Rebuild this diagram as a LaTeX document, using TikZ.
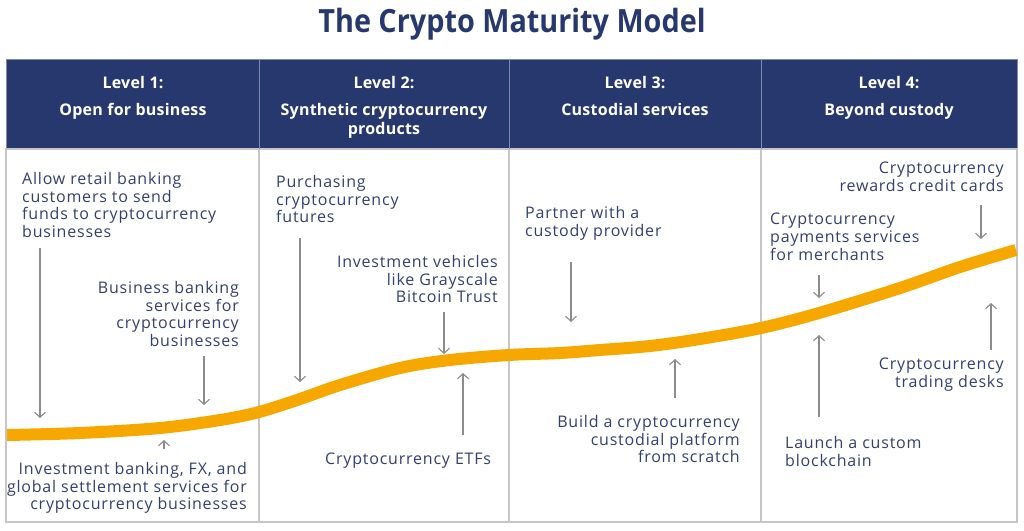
\documentclass[tikz,border=0pt]{standalone}
\usepackage{fontspec}
\setmainfont{Open Sans}
\newfontfamily\bodyf[LetterSpace=5]{Open Sans}
\newfontfamily\hdrf[LetterSpace=1.5]{Open Sans}
\usetikzlibrary{arrows.meta}
\definecolor{navy}{HTML}{27386F}
\definecolor{txt}{HTML}{33406F}
\definecolor{orng}{HTML}{F6A800}
\definecolor{arr}{HTML}{8C8C8C}
\definecolor{gridc}{HTML}{C6C6C6}
\definecolor{hdrline}{HTML}{8088AC}
\begin{document}
\begin{tikzpicture}[x=1pt,y=-1pt,
  lab/.style={inner sep=0pt, font=\bodyf\fontsize{16}{17.7}\selectfont, text=txt},
  labl/.style={lab, align=left, anchor=north west},
  labr/.style={lab, align=right, anchor=north east},
  hdr/.style={inner sep=0pt, font=\hdrf\fontsize{16}{19}\selectfont\bfseries, text=white, align=center, anchor=north},
  arrline/.style={draw=arr, line width=1.1pt, -{Straight Barb[length=5pt,width=11pt]}}]
\useasboundingbox (0,0) rectangle (1024,530);
\fill[white] (0,0) rectangle (1024,530);
% title
\node[anchor=base, inner sep=0pt, text=navy, font=\fontsize{32}{36}\selectfont\bfseries] (title) at (512,32) {\scalebox{0.9}[1]{The Crypto Maturity Model}};
% header band and body frame
\fill[navy] (6,59) rectangle (1017,149);
\draw[hdrline, line width=0.8pt] (6,59) rectangle (1017,149);
\draw[gridc, line width=1.2pt] (6,149) rectangle (1017,522);
% dividers
\foreach \xx in {259,509,761}{
  \draw[hdrline, line width=0.8pt] (\xx,59) -- (\xx,149);
  \draw[gridc, line width=1.2pt] (\xx,149) -- (\xx,522);
}
% curve
\draw[orng, line width=12pt, line cap=butt] plot[smooth, tension=0.55] coordinates {
 (7,435) (80,433) (160,428) (220,420) (259,412) (300,399) (340,385) (400,368) (450,360) (509,355) (560,353) (600,350) (650,346) (700,339) (761,328) (819,313) (900,288) (960,267) (1016,250)};
% headers
\node[hdr] (h1) at (133,76) {Level 1:\\[8pt]Open for business};
\node[hdr] (h2) at (384,76) {Level 2:\\[8pt]Synthetic cryptocurrency\\products};
\node[hdr] (h3) at (635,76) {Level 3:\\[8pt]Custodial services};
\node[hdr] (h4) at (889,76) {Level 4:\\[8pt]Beyond custody};
% column 1
\node[labl] (n1a) at (22,172) {Allow retail banking\\customers to send\\funds to cryptocurrency\\businesses};
\node[labr] (n1b) at (239,281) {Business banking\\services for\\cryptocurrency\\businesses};
\node[labr] (n1c) at (247,462) {Investment banking, FX, and\\global settlement services for\\cryptocurrency businesses};
% column 2
\node[labl] (n2a) at (276,175) {Purchasing\\cryptocurrency\\futures};
\node[labr] (n2b) at (498,255) {Investment vehicles\\like Grayscale\\Bitcoin Trust};
\node[labl] (n2c) at (325,453) {Cryptocurrency ETFs};
% column 3
\node[labl] (n3a) at (525,206) {Partner with a\\custody provider};
\node[labr] (n3b) at (740,415) {Build a cryptocurrency\\custodial platform\\from scratch};
% column 4
\node[labr] (n4a) at (1004,162) {Cryptocurrency\\rewards credit cards};
\node[labl] (n4b) at (770,213) {Cryptocurrency\\payments services\\for merchants};
\node[labr] (n4c) at (1004,358) {Cryptocurrency\\trading desks};
\node[labl] (n4d) at (785,436) {Launch a custom\\blockchain};
% arrows
\coordinate (a1s) at (40,248);  \coordinate (a1e) at (40,418);
\coordinate (a2s) at (204,356); \coordinate (a2e) at (204,405);
\coordinate (a3s) at (164,449); \coordinate (a3e) at (164,440);
\coordinate (a4s) at (300,238); \coordinate (a4e) at (300,382);
\coordinate (a5s) at (444,312); \coordinate (a5e) at (444,354);
\coordinate (a6s) at (463,435); \coordinate (a6e) at (463,373);
\coordinate (a7s) at (571,262); \coordinate (a7e) at (571,322);
\coordinate (a8s) at (675,398); \coordinate (a8e) at (675,359);
\coordinate (a9s) at (981,205); \coordinate (a9e) at (981,239);
\coordinate (a10s) at (819,275); \coordinate (a10e) at (819,298);
\coordinate (a11s) at (819,417); \coordinate (a11e) at (819,335);
\coordinate (a12s) at (991,350); \coordinate (a12e) at (991,303);
\foreach \i in {1,...,12}{\draw[arrline] (a\i s) -- (a\i e);}
\end{tikzpicture}
\end{document}
